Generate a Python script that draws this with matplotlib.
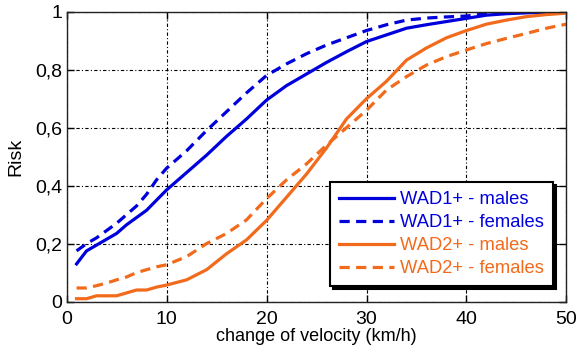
import matplotlib
matplotlib.use("Agg")
import matplotlib.pyplot as plt

plt.rcParams['font.family'] = ['Liberation Sans', 'DejaVu Sans']

velocity = [1, 2, 3, 4, 5, 6, 7, 8, 9, 10, 12, 14, 16, 18, 20, 22, 24, 26, 28, 30,
            32, 34, 36, 38, 40, 42, 44, 46, 48, 50]
wad1_males = [0.13, 0.175, 0.195, 0.215, 0.235, 0.265, 0.29, 0.315, 0.35, 0.385, 0.445,
              0.505, 0.57, 0.63, 0.695, 0.745, 0.785, 0.825, 0.862, 0.897, 0.92, 0.943,
              0.955, 0.966, 0.977, 0.988, 0.993, 0.996, 0.998, 1.0]
wad1_females = [0.175, 0.2, 0.22, 0.245, 0.27, 0.3, 0.33, 0.37, 0.42, 0.46, 0.52, 0.59,
                0.655, 0.72, 0.78, 0.82, 0.855, 0.885, 0.91, 0.935, 0.955, 0.971, 0.978,
                0.982, 0.985, 0.993, 0.996, 0.998, 1.0, 1.0]
wad2_males = [0.01, 0.01, 0.02, 0.02, 0.02, 0.03, 0.04, 0.04, 0.05, 0.057, 0.075, 0.11,
              0.165, 0.213, 0.28, 0.36, 0.44, 0.53, 0.63, 0.70, 0.76, 0.833, 0.875, 0.91,
              0.935, 0.957, 0.971, 0.983, 0.99, 0.995]
wad2_females = [0.047, 0.047, 0.055, 0.064, 0.075, 0.085, 0.1, 0.11, 0.12, 0.127, 0.155,
                0.2, 0.235, 0.282, 0.355, 0.42, 0.475, 0.54, 0.60, 0.66, 0.73, 0.776,
                0.816, 0.845, 0.868, 0.89, 0.908, 0.925, 0.943, 0.957]

labels = ["WAD1+ - males", "WAD1+ - females", "WAD2+ - males", "WAD2+ - females"]
x_ticks = [0, 10, 20, 30, 40, 50]
y_ticks = [0, 0.2, 0.4, 0.6, 0.8, 1]
y_tick_labels = ["0", "0,2", "0,4", "0,6", "0,8", "1"]

blue = "#0000dd"
orange = "#f26a1b"

fig = plt.figure(figsize=(5.84, 3.54), dpi=100)
ax = fig.add_axes([0.114, 0.148, 0.856, 0.819])

lw = 2.3
dash = (0, (3.2, 2.0))
ax.plot(velocity, wad1_males, color=blue, lw=lw, label=labels[0])
ax.plot(velocity, wad1_females, color=blue, lw=lw, ls=dash, label=labels[1])
ax.plot(velocity, wad2_males, color=orange, lw=lw, label=labels[2])
ax.plot(velocity, wad2_females, color=orange, lw=lw, ls=dash, label=labels[3])

ax.set_xlim(0, 50)
ax.set_ylim(0, 1)
ax.set_xticks(x_ticks)
ax.set_yticks(y_ticks)
ax.set_yticklabels(y_tick_labels)
ax.tick_params(direction='in', top=True, right=True, labelsize=14, length=5,
               width=1, colors='black')
ax.tick_params(axis='y', pad=3)
ax.tick_params(axis='x', pad=7)
for sp in ax.spines.values():
    sp.set_linewidth(1.0)
    sp.set_color('#222222')
ax.grid(True, color='black', linestyle=(0, (3, 2, 1, 2)), linewidth=0.8)
ax.set_axisbelow(True)

ax.set_xlabel("change of velocity (km/h)", fontsize=13, labelpad=0)
ax.set_ylabel("Risk", fontsize=14, labelpad=8)

leg = ax.legend(loc='upper right', bbox_to_anchor=(0.973, 0.413), fancybox=False,
                shadow={'color': 'black', 'alpha': 1.0}, edgecolor='black',
                framealpha=1, fontsize=13.2, handlelength=3.0, handletextpad=0.3,
                labelspacing=0.33, borderpad=0.5, borderaxespad=0.0,
                labelcolor=[blue, blue, orange, orange])
leg.get_frame().set_linewidth(1.5)

fig.savefig("out.png", dpi=100)
